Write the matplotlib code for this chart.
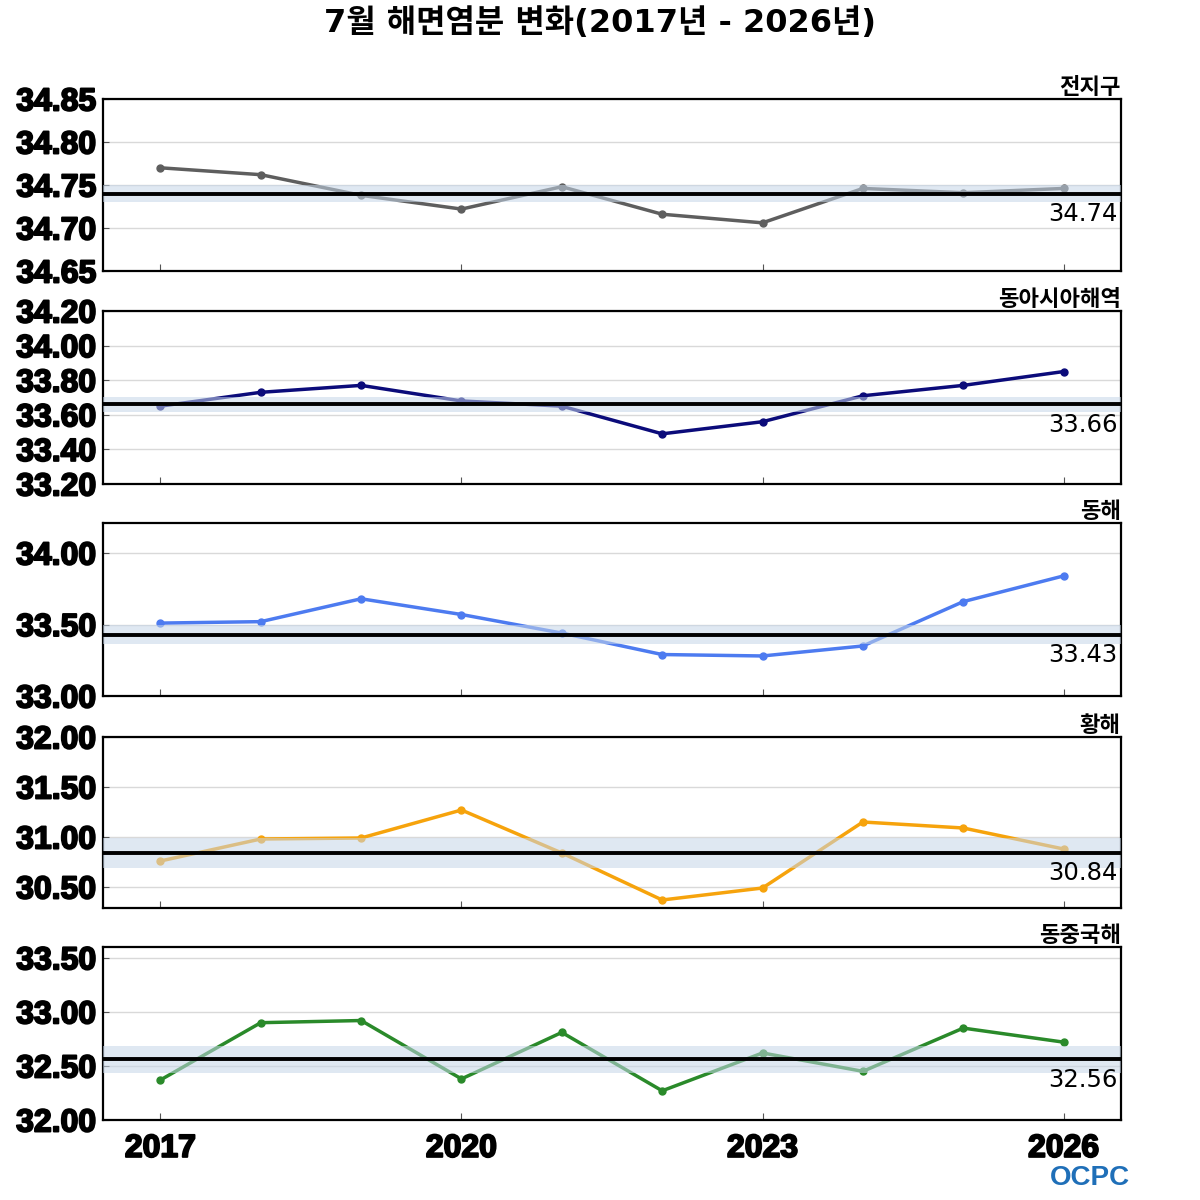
import matplotlib
matplotlib.use('Agg')
import matplotlib.pyplot as plt
import matplotlib.patheffects as pe
import numpy as np

years = [2017, 2018, 2019, 2020, 2021, 2022, 2023, 2024, 2025, 2026]

regions = ['전지구', '동아시아해역', '동해', '황해', '동중국해']
sal_global = [34.770, 34.762, 34.738, 34.722, 34.748, 34.716, 34.706, 34.746, 34.741, 34.746]
sal_eastasia = [33.65, 33.73, 33.77, 33.68, 33.65, 33.49, 33.56, 33.71, 33.77, 33.85]
sal_east = [33.51, 33.52, 33.68, 33.57, 33.44, 33.29, 33.28, 33.35, 33.66, 33.84]
sal_yellow = [30.76, 30.98, 30.99, 31.27, 30.84, 30.37, 30.49, 31.15, 31.09, 30.88]
sal_ecs = [32.37, 32.90, 32.92, 32.38, 32.81, 32.27, 32.62, 32.45, 32.85, 32.72]

means = [34.74, 33.66, 33.43, 30.84, 32.56]
bands = [0.01, 0.045, 0.065, 0.15, 0.125]

series = [sal_global, sal_eastasia, sal_east, sal_yellow, sal_ecs]
colors = ['#5e5e5e', '#0b0b7a', '#4d7bf0', '#f6a30c', '#2a8a2a']
ylims = [(34.65, 34.85), (33.2, 34.2), (33.0, 34.21), (30.29, 32.0), (32.0, 33.6)]
yticks = [[34.65, 34.70, 34.75, 34.80, 34.85],
          [33.2, 33.4, 33.6, 33.8, 34.0, 34.2],
          [33.0, 33.5, 34.0],
          [30.5, 31.0, 31.5, 32.0],
          [32.0, 32.5, 33.0, 33.5]]

kr = ['DejaVu Sans', 'Noto Sans CJK KR']
heavy = [pe.withStroke(linewidth=1.4, foreground='black')]

fig = plt.figure(figsize=(12, 12), dpi=100)
fig.text(0.5, 0.981, '7월 해면염분 변화(2017년 - 2026년)', ha='center', va='center',
         fontsize=23, fontweight='bold', family=kr)

left, width = 0.086, 0.848
tops = [99, 311, 523, 737, 947]
bottoms = [271, 484, 696, 908, 1120]

for i in range(5):
    b = 1 - bottoms[i] / 1200
    h = (bottoms[i] - tops[i]) / 1200
    ax = fig.add_axes([left, b, width, h])
    ax.plot(years, series[i], color=colors[i], lw=2.5, marker='o', ms=5, zorder=2)
    ax.axhspan(means[i] - bands[i], means[i] + bands[i], color='#c6d6e8', alpha=0.55, lw=0, zorder=3)
    ax.axhline(means[i], color='black', lw=2.8, zorder=4)
    ax.annotate('%.2f' % means[i], xy=(0.997, means[i]), xycoords=ax.get_yaxis_transform(),
                xytext=(0, -6), textcoords='offset points',
                ha='right', va='top', fontsize=17.5, family='DejaVu Sans', zorder=5)
    ax.set_xlim(2016.43, 2026.57)
    ax.set_ylim(*ylims[i])
    ax.set_yticks(yticks[i])
    ax.set_yticklabels(['%.2f' % t for t in yticks[i]], fontsize=23, fontweight='bold',
                       family='Liberation Sans')
    for lab in ax.get_yticklabels():
        lab.set_path_effects(heavy)
    ax.set_xticks([2017, 2020, 2023, 2026])
    ax.grid(axis='y', color='#d9d9d9', lw=1, zorder=0)
    ax.set_axisbelow(True)
    ax.tick_params(axis='both', direction='in', length=5, color='#555555', pad=5)
    ax.tick_params(axis='y', length=4)
    for s in ax.spines.values():
        s.set_linewidth(1.6)
    if i < 4:
        ax.set_xticklabels([])
    else:
        ax.set_xticklabels(['2017', '2020', '2023', '2026'], fontsize=23, fontweight='bold',
                           family='Liberation Sans')
        for lab in ax.get_xticklabels():
            lab.set_path_effects(heavy)
        ax.tick_params(axis='x', pad=10)
    ax.set_title(regions[i], loc='right', fontsize=16, fontweight='bold',
                 family=['Noto Sans CJK KR', 'DejaVu Sans'], pad=3)

# logo
fig.text(0.942, 0.018, 'OCPC', ha='right', va='center', fontsize=20, fontweight='bold',
         color='#1f6fb8', family='Liberation Sans')

fig.savefig('out.png', dpi=100)
